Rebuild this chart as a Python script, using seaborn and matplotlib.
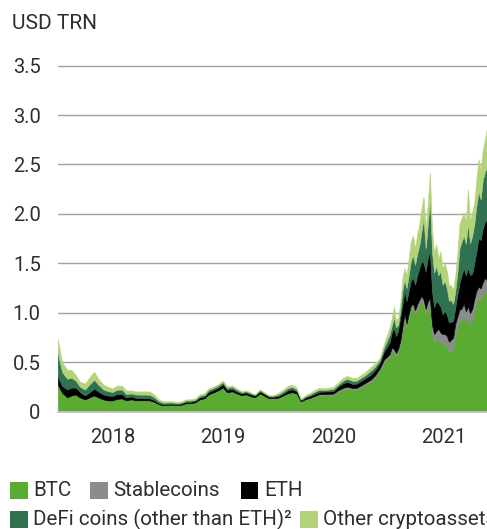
import numpy as np
import pandas as pd
import matplotlib
matplotlib.use("Agg")
import matplotlib.pyplot as plt
import seaborn as sns
from matplotlib.patches import Rectangle

# ---------------- data (USD trillion) ----------------
dates = pd.date_range("2018-01-01", "2020-12-15", freq="SMS").append(
    pd.date_range("2021-01-03", periods=47, freq="7D"))

btc = [
    .27, .19, .14, .16, .17, .14, .12, .14, .16, .14, .12, .11, .11, .125, .13, .11, .12, .11, .11, .11, .11, .095, .07, .06,
    .065, .065, .062, .065, .08, .08, .09, .12, .13, .17, .19, .21, .24, .19, .20, .18, .16, .17, .15, .14, .18, .155, .13, .13,
    .135, .155, .18, .19, .175, .095, .12, .13, .15, .165, .165, .165, .17, .20, .225, .235, .22, .22, .245, .27, .30, .34, .41, .50,
    .55, .62, .60, .56, .60, .68, .82, .95, .85, .95, 1.03, 1.05, .98, 1.04, 1.08, 1.12, 1.08, .98, 1.05, 1.08, .80, .70, .72, .74,
    .70, .68, .68, .66, .60, .62, .64, .78, .85, .92, .93, .98, .90, .95, .88, .92, 1.02, 1.10, 1.14, 1.12, 1.18, 1.22, 1.20]

stablecoins = [
    .001, .001, .002, .002, .002, .002, .002, .002, .002, .002, .002, .002, .002, .002, .002, .002, .003, .003, .003, .003, .003, .003, .003, .003,
    .003, .003, .003, .003, .003, .003, .003, .003, .004, .004, .004, .004, .004, .004, .004, .004, .004, .004, .004, .004, .004, .004, .004, .005,
    .005, .005, .005, .005, .006, .006, .007, .008, .009, .010, .011, .011, .012, .013, .014, .016, .018, .019, .020, .021, .022, .023, .024, .026,
    .029, .030, .031, .032, .033, .034, .035, .036, .038, .039, .040, .042, .044, .046, .048, .050, .053, .057, .062, .068, .076, .085, .093, .098,
    .100, .102, .104, .105, .106, .107, .108, .109, .110, .111, .112, .113, .114, .115, .116, .118, .120, .122, .124, .126, .128, .130, .132]

eth = [
    .08, .07, .08, .08, .07, .055, .04, .05, .07, .06, .05, .05, .045, .048, .045, .03, .03, .025, .023, .022, .021, .018, .012, .01,
    .01, .01, .009, .012, .014, .014, .015, .018, .018, .024, .026, .027, .032, .025, .024, .02, .018, .019, .019, .017, .02, .019, .016, .014,
    .016, .02, .028, .03, .025, .013, .017, .02, .023, .026, .026, .027, .026, .035, .045, .05, .042, .041, .045, .045, .05, .055, .055, .08,
    .12, .15, .21, .17, .185, .235, .225, .235, .23, .23, .25, .26, .26, .29, .32, .35, .37, .38, .44, .48, .34, .27, .30, .26,
    .26, .20, .235, .215, .195, .18, .17, .16, .22, .27, .335, .355, .365, .385, .385, .36, .36, .40, .49, .49, .54, .57, .61]

defi = [
    .24, .14, .11, .10, .07, .055, .06, .08, .09, .07, .05, .045, .04, .045, .045, .035, .03, .035, .035, .036, .036, .03, .02, .016,
    .013, .013, .012, .012, .014, .014, .013, .017, .017, .02, .02, .02, .022, .02, .021, .018, .013, .013, .013, .008, .012, .01, .009, .01,
    .017, .02, .024, .023, .017, .008, .013, .016, .019, .02, .017, .019, .021, .021, .028, .03, .031, .031, .031, .033, .04, .035, .03, .04,
    .08, .07, .11, .09, .06, .07, .14, .11, .13, .16, .20, .23, .20, .22, .23, .30, .45, .23, .33, .53, .40, .35, .36, .28,
    .36, .30, .30, .27, .22, .22, .17, .17, .22, .35, .34, .33, .32, .45, .32, .38, .40, .46, .47, .41, .50, .50, .54]

other = [
    .14, .10, .09, .08, .06, .05, .06, .07, .08, .06, .05, .045, .035, .042, .04, .035, .03, .03, .032, .032, .033, .027, .018, .014,
    .012, .012, .012, .011, .012, .012, .012, .015, .015, .016, .014, .013, .016, .015, .015, .012, .009, .008, .008, .005, .008, .006, .005, .006,
    .017, .02, .023, .022, .017, .008, .013, .016, .019, .019, .016, .018, .021, .021, .028, .029, .029, .029, .029, .031, .038, .032, .025, .04,
    .07, .08, .11, .07, .07, .08, .13, .12, .13, .17, .20, .20, .17, .20, .22, .23, .22, .20, .22, .26, .23, .20, .22, .17,
    .20, .17, .18, .17, .16, .15, .15, .16, .20, .25, .24, .24, .22, .35, .22, .24, .22, .27, .33, .30, .30, .33, .40]

series_labels = ["BTC", "Stablecoins", "ETH", "DeFi coins (other than ETH)²", "Other cryptoassets"]
series_colors = ["#5aab32", "#8c8c8c", "#000000", "#2f7150", "#b4d27a"]
year_ticks = ["2018", "2019", "2020", "2021"]
y_ticks = [0, 0.5, 1.0, 1.5, 2.0, 2.5, 3.0, 3.5]
y_ticklabels = ["0", "0.5", "1.0", "1.5", "2.0", "2.5", "3.0", "3.5"]

# ---------------- style ----------------
sns.set_theme(style="white")
plt.rcParams["font.family"] = ["Roboto", "DejaVu Sans"]
txt_color = "#2e2e2e"

W, H = 487, 529
fig = plt.figure(figsize=(W / 100, H / 100), dpi=100)
fig.patch.set_facecolor("white")

ymax = 3.52
px_per_unit = 98.8
y0_px = 411.5
top_px = y0_px - ymax * px_per_unit
left_px = 57.8
ax = fig.add_axes([left_px / W, (H - y0_px) / H, 1 - left_px / W, (y0_px - top_px) / H])

df = pd.DataFrame({"date": dates, "BTC": btc, "Stablecoins": stablecoins, "ETH": eth,
                   "DeFi": defi, "Other": other})
palette = sns.color_palette(series_colors)
ax.stackplot(df["date"], df["BTC"], df["Stablecoins"], df["ETH"], df["DeFi"], df["Other"],
             colors=palette, linewidth=0.4, edgecolor="face", zorder=2)

ax.set_xlim(pd.Timestamp("2018-01-01"), df["date"].iloc[-1])
ax.set_ylim(0, ymax)
ax.set_axisbelow(True)
ax.yaxis.grid(True, color="#a3a3a3", linewidth=1.0)
ax.xaxis.grid(False)
ax.set_yticks(y_ticks)
ax.set_yticklabels(y_ticklabels)
ax.set_xticks([pd.Timestamp(f"{y}-07-02") for y in year_ticks])
ax.set_xticklabels(year_ticks)
ax.tick_params(axis="y", length=0, pad=12.3, labelsize=14.5, labelcolor=txt_color)
ax.tick_params(axis="x", length=0, pad=12.0, labelsize=14.5, labelcolor=txt_color)
for s in ["top", "right", "left"]:
    ax.spines[s].set_visible(False)
ax.spines["bottom"].set_color("#c4c4c4")
ax.spines["bottom"].set_linewidth(1.3)
ax.set_xlabel("")
ax.set_ylabel("")

fig.text(12 / W, 1 - 23.5 / H, "USD TRN", ha="left", va="center", fontsize=15, color=txt_color)

# ---------------- legend ----------------
sq = 17.6
legend_items = [
    (10, 481.7, 0), (90, 481.7, 1), (240.7, 481.7, 2),
    (10, 510.7, 3), (300, 510.7, 4),
]
for x, y, i in legend_items:
    fig.add_artist(Rectangle((x / W, 1 - (y + sq) / H), sq / W, sq / H,
                             transform=fig.transFigure, facecolor=series_colors[i],
                             edgecolor="none"))
    fig.text((x + sq + 5.5) / W, 1 - (y + sq / 2) / H, series_labels[i], ha="left",
             va="center", fontsize=14.8, color=txt_color)

fig.savefig("out.png", dpi=100, facecolor="white")
